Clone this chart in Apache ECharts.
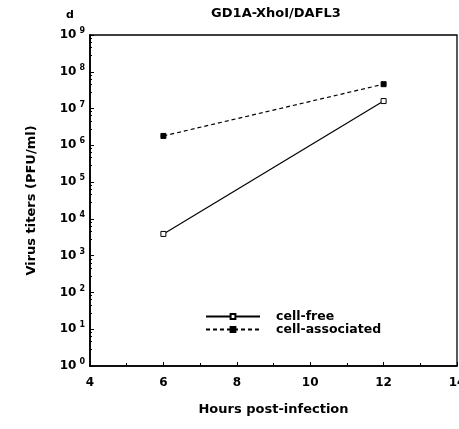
<!DOCTYPE html>
<html>
<head>
<meta charset="utf-8">
<script src="https://cdn.jsdelivr.net/npm/echarts@6/dist/echarts.min.js"></script>
<style>
  html, body { margin: 0; padding: 0; background: #fff; }
  #main { width: 459px; height: 429px; }
</style>
</head>
<body>
<div id="main"></div>
<script>
// hours post-infection
var hours = [6, 12];
// virus titers, PFU/ml
var cellFree = [3.9e3, 1.6e7];
var cellAssociated = [1.8e6, 4.6e7];
var seriesNames = ['cell-free', 'cell-associated'];
var xTicks = [4, 6, 8, 10, 12, 14];

var chart = echarts.init(document.getElementById('main'));
var font = 'DejaVu Sans, Verdana, sans-serif';

chart.setOption({
  animation: false,
  textStyle: { fontFamily: font, color: '#000' },
  title: [
    {
      text: 'GD1A-XhoI/DAFL3',
      left: 271, top: 2, textAlign: 'center',
      textStyle: { fontSize: 13, fontWeight: 'bold', color: '#000', fontFamily: font }
    },
    {
      text: 'd',
      left: 61, top: 5,
      textStyle: { fontSize: 11, fontWeight: 'bold', color: '#000', fontFamily: font }
    }
  ],
  legend: {
    orient: 'vertical',
    left: 200, top: 305,
    itemWidth: 54, itemHeight: 6, itemGap: 0,
    textStyle: { fontSize: 12.5, lineHeight: 13, fontWeight: 'bold', color: '#000', fontFamily: font, padding: [0, 0, 0, 11] },
    data: seriesNames
  },
  grid: {
    left: 90, right: 2, top: 35, bottom: 63,
    outerBoundsMode: 'none',
    show: true, borderColor: '#000', borderWidth: 1.3
  },
  xAxis: {
    type: 'value',
    min: xTicks[0], max: xTicks[xTicks.length - 1], interval: 2,
    name: 'Hours post-infection',
    nameLocation: 'middle', nameGap: 37,
    nameTextStyle: { fontSize: 13, fontWeight: 'bold', color: '#000' },
    axisLine: { lineStyle: { color: '#000', width: 1.5 } },
    axisTick: { inside: true, length: 4, lineStyle: { color: '#000' } },
    minorTick: { show: true, splitNumber: 2, length: 3, lineStyle: { color: '#000' } },
    splitLine: { show: false },
    axisLabel: { fontSize: 12, fontWeight: 'bold', color: '#000', margin: 11 }
  },
  yAxis: {
    type: 'log', logBase: 10,
    min: 1, max: 1e9,
    name: 'Virus titers (PFU/ml)',
    nameLocation: 'middle', nameGap: 52,
    nameTextStyle: { fontSize: 13, fontWeight: 'bold', color: '#000' },
    axisLine: { lineStyle: { color: '#000', width: 1.8 } },
    axisTick: { inside: true, length: 4, lineStyle: { color: '#000' } },
    minorTick: { show: true, splitNumber: 5, length: 2, lineStyle: { color: '#000' } },
    splitLine: { show: false },
    axisLabel: {
      margin: 5,
      formatter: function (v) {
        var e = Math.round(Math.log10(v));
        return '{b|10}{s|' + e + '}';
      },
      rich: {
        b: { fontSize: 12, fontWeight: 'bold', color: '#000', fontFamily: font },
        s: { fontSize: 8, fontWeight: 'bold', color: '#000', fontFamily: font, verticalAlign: 'top', padding: [0, 0, 8, 3] }
      }
    }
  },
  series: [
    {
      name: seriesNames[0],
      type: 'line',
      data: hours.map(function (h, i) { return [h, cellFree[i]]; }),
      symbol: 'rect', symbolSize: 5,
      itemStyle: { color: '#fff', borderColor: '#000', borderWidth: 1 },
      lineStyle: { color: '#000', width: 1.2, type: 'solid' }
    },
    {
      name: seriesNames[1],
      type: 'line',
      data: hours.map(function (h, i) { return [h, cellAssociated[i]]; }),
      symbol: 'rect', symbolSize: 5,
      itemStyle: { color: '#000', borderColor: '#000', borderWidth: 1 },
      lineStyle: { color: '#000', width: 1.2, type: [4, 3] }
    }
  ]
});
</script>
</body>
</html>
